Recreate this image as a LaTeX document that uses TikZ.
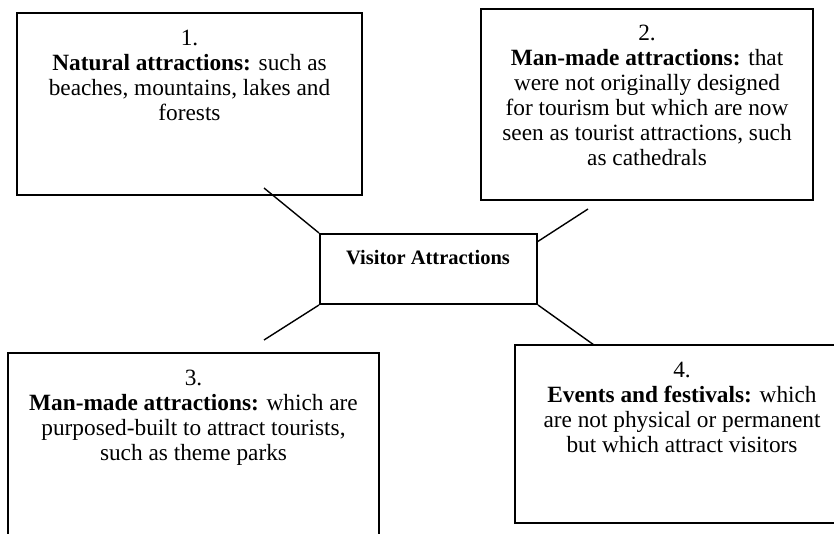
\documentclass[tikz,border=0pt]{standalone}
\usepackage{fontspec}
\setmainfont{Liberation Serif}

\begin{document}
\begin{tikzpicture}[x=1pt,y=-1pt,
  box/.style={draw,line width=2pt,inner sep=0pt},
  txt/.style={align=center,anchor=base,inner sep=0pt,font=\fontsize{23.3}{25}\selectfont},
  link/.style={line width=1.4pt}]
\clip (0,0) rectangle (834,533);

\node[box,minimum width=345,minimum height=182] (natural) at (189.5,104) {};
\node[box,minimum width=332,minimum height=191] (heritage) at (647,104.5) {};
\node[box,minimum width=371,minimum height=220] (themepark) at (193.5,463) {};
\node[box,minimum width=334,minimum height=178] (events) at (682,434) {};
\node[box,minimum width=217,minimum height=70] (hub) at (428.5,269) {};

% base = last line
\node[txt] (naturaltext) at (189.5,120) {1.\\\textbf{Natural attractions:} such as\\beaches, mountains, lakes and\\forests};
\node[txt] (heritagetext) at (647,165) {2.\\\textbf{Man-made attractions:} that\\were not originally designed\\for tourism but which are now\\seen as tourist attractions, such\\as cathedrals};
\node[txt] (themeparktext) at (193.5,460) {3.\\\textbf{Man-made attractions:} which are\\purposed-built to attract tourists,\\such as theme parks};
\node[txt] (eventstext) at (682,452) {4.\\\textbf{Events and festivals:} which\\are not physical or permanent\\but which attract visitors};
\node[txt,font=\fontsize{20.5}{24}\selectfont\bfseries] (hubtext) at (428,264) {Visitor Attractions};

\coordinate (n1) at (264,188);
\coordinate (h1) at (537,242);
\coordinate (n2) at (588,209);
\coordinate (n3) at (264,340);
\coordinate (n4) at (594,345);

\draw[link] (n1) -- (hub.north west);
\draw[link] (h1) -- (n2);
\draw[link] (hub.south west) -- (n3);
\draw[link] (hub.south east) -- (n4);

\end{tikzpicture}
\end{document}
